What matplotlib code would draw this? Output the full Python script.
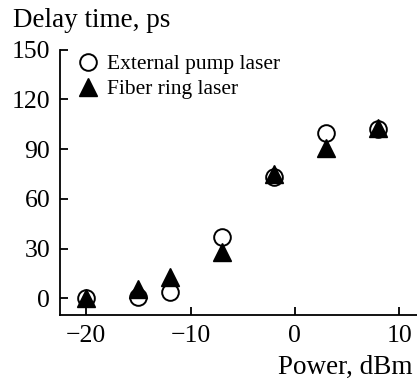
import matplotlib
matplotlib.use("Agg")
import matplotlib.pyplot as plt

# data
power = [-20, -15, -12, -7, -2, 3, 8]
delay_external = [0, 1, 4, 37, 73, 100, 102]
delay_ring = [0, 6, 13, 28, 75, 90.5, 103]

plt.rcParams['font.family'] = ['Liberation Serif', 'DejaVu Serif']

fig = plt.figure(figsize=(4.17, 3.81), dpi=100)
ax = fig.add_axes([0.144, 0.173, 0.856, 0.697])

ax.plot(power, delay_external, 'o', ms=12, mfc='white', mec='black', mew=1.4,
        label='External pump laser', zorder=3)
ax.plot(power, delay_ring, '^', ms=12.5, mfc='black', mec='black', mew=1,
        label='Fiber ring laser', zorder=4)

ax.set_xlim(-22.5, 11.7)
ax.set_ylim(-10, 150)
ax.set_xticks([-20, -10, 0, 10])
ax.set_xticklabels(['\u221220', '\u221210', '0', '10'])
ax.set_yticks([0, 30, 60, 90, 120, 150])

for s in ['top', 'right']:
    ax.spines[s].set_visible(False)
for s in ['left', 'bottom']:
    ax.spines[s].set_linewidth(1.3)
ax.spines['left'].set_bounds(-10, 150)

ax.tick_params(direction='in', length=6, width=1.3, labelsize=18.5, pad=7)

fig.text(0.03, 0.945, 'Delay time, ps', fontsize=19.5, va='center', ha='left')
fig.text(0.99, 0.035, 'Power, dBm', fontsize=19.5, va='center', ha='right')

ax.legend(loc='upper left', bbox_to_anchor=(0.0, 1.04), frameon=False,
          fontsize=15.5, handletextpad=0.3, borderpad=0.2, labelspacing=0.25,
          handlelength=1.2)

fig.savefig('out.png', dpi=100)
